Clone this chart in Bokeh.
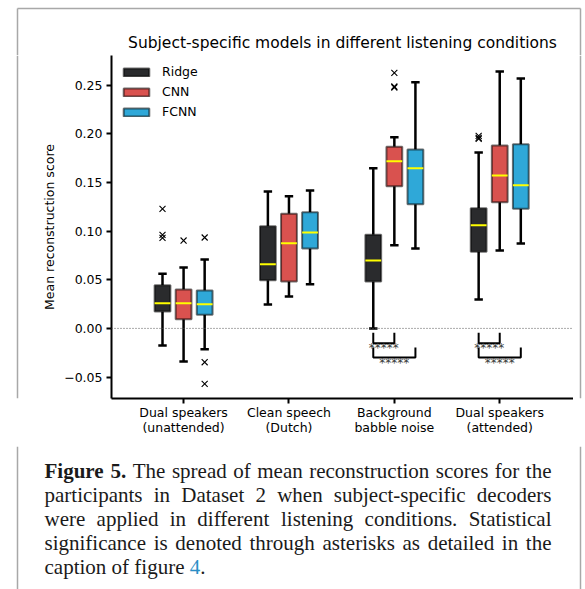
import numpy as np
from bokeh.plotting import figure
from bokeh.layouts import column, row
from bokeh.models import (ColumnDataSource, Range1d, FixedTicker, Span, Legend)
from bokeh.core.properties import value
from bokeh.embed import file_html
from bokeh.resources import INLINE

# ---------------- data ----------------
categories = ["Dual speakers\n(unattended)", "Clean speech\n(Dutch)",
              "Background\nbabble noise", "Dual speakers\n(attended)"]
models = ["Ridge", "CNN", "FCNN"]
model_colors = ["#2a2b2d", "#d9524f", "#2fa8d8"]
model_offsets = [-0.2, 0.0, 0.2]

ridge_whislo = [-0.0176, 0.0246, 0.0000, 0.0297]
ridge_q1 = [0.0174, 0.0496, 0.0482, 0.0788]
ridge_med = [0.0259, 0.0660, 0.0698, 0.1061]
ridge_q3 = [0.0444, 0.1051, 0.0963, 0.1236]
ridge_whishi = [0.0562, 0.1408, 0.1648, 0.1809]

cnn_whislo = [-0.0340, 0.0328, 0.0856, 0.0801]
cnn_q1 = [0.0095, 0.0482, 0.1463, 0.1298]
cnn_med = [0.0259, 0.0876, 0.1720, 0.1573]
cnn_q3 = [0.0400, 0.1179, 0.1868, 0.1881]
cnn_whishi = [0.0626, 0.1360, 0.1966, 0.2642]

fcnn_whislo = [-0.0214, 0.0455, 0.0822, 0.0873]
fcnn_q1 = [0.0140, 0.0822, 0.1277, 0.1230]
fcnn_med = [0.0249, 0.0986, 0.1648, 0.1473]
fcnn_q3 = [0.0390, 0.1195, 0.1840, 0.1894]
fcnn_whishi = [0.0709, 0.1418, 0.2532, 0.2571]

ridge_out_cat = [0, 0, 0, 3, 3, 3]
ridge_out_val = [0.1230, 0.0963, 0.0932, 0.1980, 0.1960, 0.1950]
cnn_out_cat = [0, 2, 2, 2]
cnn_out_val = [0.0904, 0.2629, 0.2488, 0.2478]
fcnn_out_cat = [0, 0, 0]
fcnn_out_val = [0.0935, -0.0348, -0.0570]

# significance: category, model from, model to, label
sig_cat = [2, 2, 3, 3]
sig_from = [0, 0, 0, 0]
sig_to = [1, 2, 1, 2]
sig_text = ["*****", "*****", "*****", "*****"]

y_ticks = [-0.05, 0.0, 0.05, 0.10, 0.15, 0.20, 0.25]
y_tick_labels = ["\u22120.05", "0.00", "0.05", "0.10", "0.15", "0.20", "0.25"]

title_text = "Subject-specific models in different listening conditions"
y_label = "Mean reconstruction score"
caption_bold = "Figure 5."
caption_lines = [
    "The spread of mean reconstruction scores for the",
    "participants in Dataset 2 when subject-specific decoders",
    "were applied in different listening conditions. Statistical",
    "significance is denoted through asterisks as detailed in the",
    "caption of figure",
]
caption_ref = "4"

stats = {
    "Ridge": (ridge_whislo, ridge_q1, ridge_med, ridge_q3, ridge_whishi, ridge_out_cat, ridge_out_val),
    "CNN": (cnn_whislo, cnn_q1, cnn_med, cnn_q3, cnn_whishi, cnn_out_cat, cnn_out_val),
    "FCNN": (fcnn_whislo, fcnn_q1, fcnn_med, fcnn_q3, fcnn_whishi, fcnn_out_cat, fcnn_out_val),
}

FONT = "DejaVu Sans"
SERIF = "Liberation Serif"
FRAME_COLOR = "#a8a8a8"
TEXT_COLOR = "#1a1a1a"
BOX_W = 0.15
CAP_W = 0.08


def blank(w, h, xr, yr):
    f = figure(width=w, height=h, x_range=Range1d(*xr), y_range=Range1d(*yr),
               output_backend="svg", toolbar_location=None, tools="",
               x_axis_location=None, y_axis_location=None, min_border=0)
    f.min_border_left = f.min_border_right = f.min_border_top = f.min_border_bottom = 0
    f.outline_line_color = None
    f.background_fill_color = "white"
    f.border_fill_color = "white"
    f.xgrid.visible = False
    f.ygrid.visible = False
    return f


# ---------------- top strip: page frame + title ----------------
top = blank(585, 55, (0, 585), (0, 55))
top.segment(x0=[17, 17, 580], y0=[47, 0, 0], x1=[580, 17, 580], y1=[47, 47, 47],
            line_color=FRAME_COLOR, line_width=1.5)
top.text(x=[342], y=[12.3], text=[title_text], text_font=value(FONT),
         text_font_size="15.5px", text_align="center", text_baseline="middle",
         text_color="black")

left = blank(30, 391, (0, 30), (0, 1))
left.add_layout(Span(location=17, dimension="height", line_color=FRAME_COLOR, line_width=1.5))
right = blank(12, 391, (573, 585), (0, 1))
right.add_layout(Span(location=580, dimension="height", line_color=FRAME_COLOR, line_width=1.5))

# ---------------- main chart ----------------
p = figure(width=543, height=391, output_backend="svg", toolbar_location=None, tools="",
           x_range=Range1d(-0.684, 3.70), y_range=Range1d(-0.0721, 0.2807),
           min_border_left=81, min_border_right=0, min_border_top=0, min_border_bottom=48)
p.outline_line_color = None
p.background_fill_color = "white"
p.border_fill_color = "white"
p.xgrid.visible = False
p.ygrid.visible = False

for ax in (p.xaxis[0], p.yaxis[0]):
    ax.axis_line_width = 2
    ax.axis_line_color = "black"
    ax.major_tick_line_width = 2
    ax.major_tick_line_color = "black"
    ax.major_tick_out = 5
    ax.major_tick_in = 0
    ax.minor_tick_line_color = None
    ax.major_label_text_font = FONT
    ax.major_label_text_font_size = "12.5px"
    ax.major_label_text_color = "black"

p.xaxis.ticker = FixedTicker(ticks=list(range(len(categories))))
p.xaxis.major_label_overrides = {i: c for i, c in enumerate(categories)}
p.xaxis.major_label_standoff = 1
p.xaxis.major_label_text_line_height = 1.0

p.yaxis.ticker = FixedTicker(ticks=y_ticks)
p.yaxis.major_label_overrides = {t: l for t, l in zip(y_ticks, y_tick_labels)}
p.yaxis.major_label_standoff = 4
p.yaxis.axis_label = y_label
p.yaxis.axis_label_text_font = FONT
p.yaxis.axis_label_text_font_size = "12.5px"
p.yaxis.axis_label_text_font_style = "normal"
p.yaxis.axis_label_text_color = "black"
p.yaxis.axis_label_standoff = 4

p.add_layout(Span(location=0, dimension="width", line_color="#555555",
                  line_width=1, line_dash="1 2"))

legend_items = []
for m, color, off in zip(models, model_colors, model_offsets):
    wlo, q1, med, q3, whi, ocat, oval = stats[m]
    x = np.arange(len(categories)) + off
    src = ColumnDataSource(dict(x=x, wlo=wlo, q1=q1, med=med, q3=q3, whi=whi,
                                cl=x - CAP_W / 2, cr=x + CAP_W / 2,
                                ml=x - BOX_W / 2, mr=x + BOX_W / 2))
    p.segment(x0="x", y0="q3", x1="x", y1="whi", source=src, line_color="black", line_width=2.5)
    p.segment(x0="x", y0="q1", x1="x", y1="wlo", source=src, line_color="black", line_width=2.5)
    p.segment(x0="cl", y0="whi", x1="cr", y1="whi", source=src, line_color="black", line_width=2.5)
    p.segment(x0="cl", y0="wlo", x1="cr", y1="wlo", source=src, line_color="black", line_width=2.5)
    r = p.vbar(x="x", top="q3", bottom="q1", width=BOX_W, source=src, fill_color=color,
               line_color="black", line_alpha=0.55, line_width=2)
    legend_items.append((m, [r]))
    p.segment(x0="ml", y0="med", x1="mr", y1="med", source=src, line_color="#ffff00", line_width=2)
    osrc = ColumnDataSource(dict(x=np.array(ocat) + off, y=oval))
    p.scatter(x="x", y="y", source=osrc, marker="x", size=8.5, line_color="black", line_width=1.1)

# significance brackets
bracket_top = [-0.0045, -0.0196]
bracket_bar = [-0.0152, -0.0299]
text_y = [-0.0204, -0.0358]
xs, ys, tx, ty = [], [], [], []
for c, a, b, t in zip(sig_cat, sig_from, sig_to, sig_text):
    lvl = b - 1
    xa = c + model_offsets[a]
    xb = c + model_offsets[b]
    xs.append([xa, xa, xb, xb])
    ys.append([bracket_top[lvl], bracket_bar[lvl], bracket_bar[lvl], bracket_top[lvl]])
    tx.append((xa + xb) / 2)
    ty.append(text_y[lvl])
p.multi_line(xs=xs, ys=ys, line_color="black", line_width=2)
p.text(x=tx, y=ty, text=sig_text, text_font=value(FONT), text_font_size="12px",
       text_align="center", text_baseline="middle", text_color="#3a3a3a")

legend = Legend(items=legend_items, location="top_left", margin=9, padding=7,
                glyph_width=32, glyph_height=10, label_height=11, spacing=5,
                label_standoff=10, background_fill_alpha=0, border_line_color=None,
                label_text_font=FONT, label_text_font_size="12.5px", label_text_color="black")
p.add_layout(legend)

# ---------------- caption (justified, per-word placement) ----------------
REG = {' ': .25, 'a': .444, 'b': .5, 'c': .444, 'd': .5, 'e': .444, 'f': .333, 'g': .5,
       'h': .5, 'i': .278, 'j': .278, 'k': .5, 'l': .278, 'm': .778, 'n': .5, 'o': .5,
       'p': .5, 'q': .5, 'r': .333, 's': .389, 't': .278, 'u': .5, 'v': .5, 'w': .722,
       'x': .5, 'y': .5, 'z': .444, 'D': .722, 'S': .556, 'T': .611, 'F': .556,
       '.': .25, '-': .333, '2': .5, '4': .5}
BOLD = {'F': .611, 'i': .278, 'g': .5, 'u': .556, 'r': .444, 'e': .444, '5': .5, '.': .25, ' ': .25}
CAP_SIZE = 21
CAP_LEFT = 44
CAP_RIGHT = 551


def text_w(s, table):
    return sum(table.get(ch, 0.5) for ch in s) * CAP_SIZE


cap = blank(585, 143, (0, 585), (0, 143))
cap.add_layout(Span(location=17, dimension="height", line_color=FRAME_COLOR, line_width=1.5))
cap.add_layout(Span(location=580, dimension="height", line_color=FRAME_COLOR, line_width=1.5))
base_y = 118.3
line_gap = 24

bold_x, bold_y, bold_t = [], [], []
reg_x, reg_y, reg_t = [], [], []
for li, line in enumerate(caption_lines):
    words = [(w, False) for w in line.split(" ")]
    if li == 0:
        words = [(w, True) for w in caption_bold.split(" ")] + words
    yb = base_y - line_gap * li
    widths = [text_w(w, BOLD if b else REG) for w, b in words]
    if li < len(caption_lines) - 1:
        gap = (CAP_RIGHT - CAP_LEFT - sum(widths)) / (len(words) - 1)
    else:
        gap = REG[' '] * CAP_SIZE
    xpos = CAP_LEFT
    for (w, b), wd in zip(words, widths):
        if b:
            bold_x.append(xpos); bold_y.append(yb); bold_t.append(w)
        else:
            reg_x.append(xpos); reg_y.append(yb); reg_t.append(w)
        xpos += wd + gap
    if li == len(caption_lines) - 1:
        ref_x = xpos
        ref_y = yb

fs = "%dpx" % CAP_SIZE
cap.text(x=bold_x, y=bold_y, text=bold_t, text_font=value(SERIF), text_font_size=fs,
         text_font_style="bold", text_baseline="alphabetic", text_color=TEXT_COLOR)
cap.text(x=reg_x, y=reg_y, text=reg_t, text_font=value(SERIF), text_font_size=fs,
         text_baseline="alphabetic", text_color=TEXT_COLOR)
cap.text(x=[ref_x], y=[ref_y], text=[caption_ref], text_font=value(SERIF),
         text_font_size=fs, text_baseline="alphabetic", text_color="#2b8ec6")
cap.text(x=[ref_x + text_w(caption_ref, REG)], y=[ref_y], text=["."], text_font=value(SERIF),
         text_font_size=fs, text_baseline="alphabetic", text_color=TEXT_COLOR)

layout = column(top, row(left, p, right), cap)
open("out.html", "w").write(file_html(layout, INLINE))
